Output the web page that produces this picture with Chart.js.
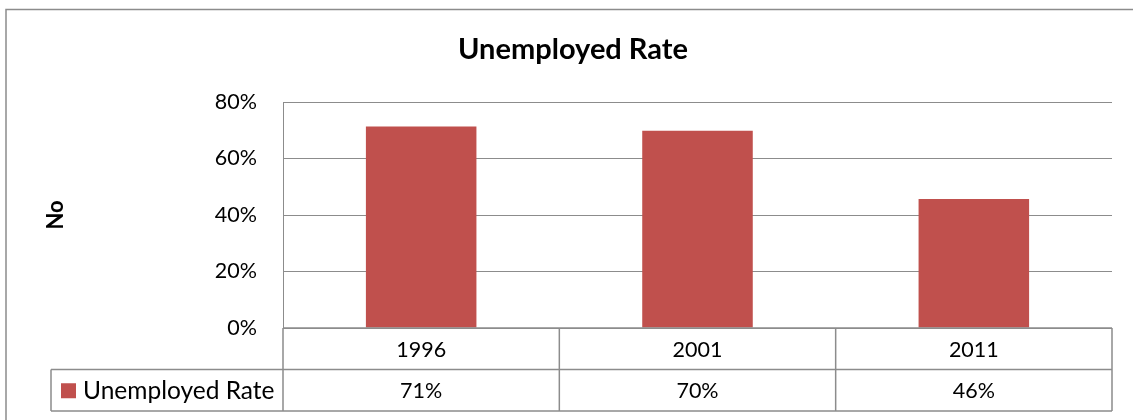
<!DOCTYPE html>
<html>
<head>
<meta charset="utf-8">
<script src="https://cdn.jsdelivr.net/npm/chart.js@4"></script>
<style>
  html, body { margin: 0; padding: 0; background: #fff; }
  #wrap { width: 1133px; height: 420px; position: relative; }
</style>
</head>
<body>
<div id="wrap"><canvas id="c" width="1133" height="420"></canvas></div>
<script>
// ---- data ----
const categories = ['1996', '2001', '2011'];
const seriesName = 'Unemployed Rate';
const unemployedRate = [0.713, 0.698, 0.457];
const yTicks = [0, 0.2, 0.4, 0.6, 0.8];
const chartTitle = 'Unemployed Rate';
const yAxisTitle = 'No';

const GRID = '#8c8c8c';
const BAR = '#C0504D';
const FONT = 'Lato, "Open Sans", sans-serif';

const pct = v => Math.round(v * 100) + '%';

const tablePlugin = {
  id: 'dataTable',
  afterDraw(chart) {
    const ctx = chart.ctx;
    const x = chart.scales.x;
    const ca = chart.chartArea;
    const n = categories.length;
    const half = (x.getPixelForValue(1) - x.getPixelForValue(0)) / 2;
    const left = ca.left, right = ca.right;
    const rowTop = ca.bottom;
    const rowMid = x.bottom - (x.bottom - ca.bottom) / 2;
    const rowBot = x.bottom;
    const legendLeft = 51;
    ctx.save();
    // outer chart border
    ctx.strokeStyle = GRID;
    ctx.lineWidth = 1.5;
    ctx.strokeRect(6, 9.5, 1140, 430);
    // chart title (centred on the whole chart frame)
    ctx.fillStyle = '#000';
    ctx.font = 'bold 29px ' + FONT;
    ctx.textAlign = 'center';
    ctx.textBaseline = 'middle';
    ctx.fillText(chartTitle, 573, 50);
    // table lines
    ctx.lineWidth = 1.5;
    ctx.beginPath();
    ctx.moveTo(left, rowTop); ctx.lineTo(right, rowTop);
    ctx.moveTo(legendLeft, rowMid); ctx.lineTo(right, rowMid);
    ctx.moveTo(legendLeft, rowBot); ctx.lineTo(right, rowBot);
    ctx.moveTo(legendLeft, rowMid); ctx.lineTo(legendLeft, rowBot);
    for (let i = 0; i < n; i++) {
      const bx = x.getPixelForValue(i) - half;
      ctx.moveTo(bx, rowTop); ctx.lineTo(bx, rowBot);
    }
    ctx.moveTo(right, rowTop); ctx.lineTo(right, rowBot);
    ctx.stroke();
    // texts
    ctx.fillStyle = '#000';
    ctx.font = '21.5px ' + FONT;
    ctx.textAlign = 'center';
    ctx.textBaseline = 'middle';
    for (let i = 0; i < n; i++) {
      const cx = x.getPixelForValue(i);
      ctx.fillText(categories[i], cx, (rowTop + rowMid) / 2 + 1);
      ctx.fillText(pct(unemployedRate[i]), cx, (rowMid + rowBot) / 2 + 1);
    }
    // legend key
    ctx.fillStyle = BAR;
    ctx.fillRect(61, (rowMid + rowBot) / 2 - 7, 15, 15);
    ctx.fillStyle = '#000';
    ctx.textAlign = 'left';
    ctx.font = '24.5px ' + FONT;
    ctx.fillText(seriesName, 83, (rowMid + rowBot) / 2 + 1);
    ctx.restore();
  }
};

new Chart(document.getElementById('c'), {
  type: 'bar',
  data: {
    labels: categories,
    datasets: [{
      label: seriesName,
      data: unemployedRate,
      backgroundColor: BAR,
      borderWidth: 0,
      barPercentage: 0.4,
      categoryPercentage: 1.0
    }]
  },
  options: {
    responsive: false,
    animation: false,
    layout: { padding: { left: 6, top: 102, right: 21, bottom: 9 } },
    plugins: {
      legend: { display: false },
      tooltip: { enabled: false },
      title: { display: false }
    },
    scales: {
      x: {
        type: 'category',
        ticks: { display: false },
        grid: { display: false, drawTicks: false },
        border: { display: false },
        afterFit(scale) { scale.height = 83; }
      },
      y: {
        min: 0,
        max: 0.8,
        afterBuildTicks(scale) { scale.ticks = yTicks.map(v => ({ value: v })); },
        ticks: {
          callback: v => pct(v),
          color: '#000',
          font: { family: FONT, size: 21.5 },
          padding: 26
        },
        grid: { color: GRID, lineWidth: 1, drawTicks: false },
        border: { display: true, color: GRID, width: 1 },
        title: {
          display: true,
          text: yAxisTitle,
          color: '#000',
          font: { family: FONT, size: 22, weight: 'bold', lineHeight: 1.2 },
          padding: { top: 37, bottom: 0 }
        },
        afterFit(scale) { scale.width = 277; }
      }
    }
  },
  plugins: [tablePlugin]
});
</script>
</body>
</html>
